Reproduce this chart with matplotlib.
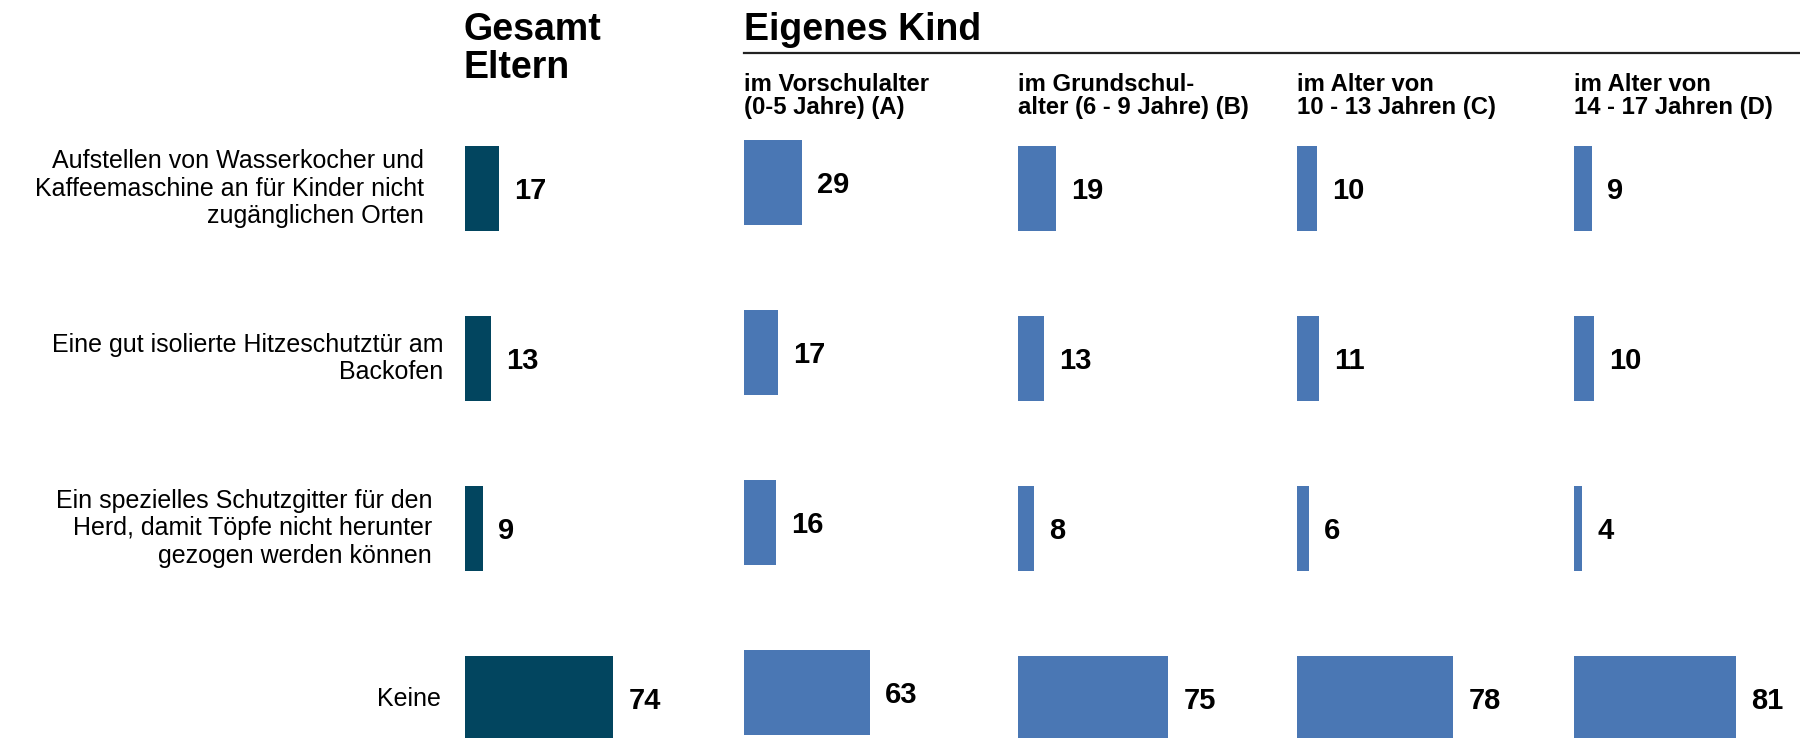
import numpy as np
import matplotlib
matplotlib.use("Agg")
import matplotlib.pyplot as plt

plt.rcParams['font.family'] = ['Liberation Sans', 'DejaVu Sans']

# data
categories = ["Aufstellen von Wasserkocher und\nKaffeemaschine an für Kinder nicht\nzugänglichen Orten",
              "Eine gut isolierte Hitzeschutztür am\nBackofen",
              "Ein spezielles Schutzgitter für den\nHerd, damit Töpfe nicht herunter\ngezogen werden können",
              "Keine"]
gesamt = [17, 13, 9, 74]
kind_a = [29, 17, 16, 63]
kind_b = [19, 13, 8, 75]
kind_c = [10, 11, 6, 78]
kind_d = [9, 10, 4, 81]
sub_titles = ["im Vorschulalter\n(0-5 Jahre) (A)",
              "im Grundschul-\nalter (6 - 9 Jahre) (B)",
              "im Alter von\n10 - 13 Jahren (C)",
              "im Alter von\n14 - 17 Jahren (D)"]

W, H = 1800, 738
fig = plt.figure(figsize=(W / 100, H / 100), dpi=100)

dark = "#02455F"
blue = "#4A77B4"

# panel geometry in pixels
lefts = [465, 744, 1018, 1297, 1574]
shifts = [0, -6, 0, 0, 0]   # column A sits a bit higher in the original
row0 = 188.5
step = 170.0
px_per_unit = 2.0
panel_w = 226

series = [gesamt, kind_a, kind_b, kind_c, kind_d]
colors = [dark, blue, blue, blue, blue]
axes = []
for left, sh, vals, col in zip(lefts, shifts, series, colors):
    top_px = row0 + sh - 0.5 * step
    bot_px = H
    ax = fig.add_axes([left / W, 1 - bot_px / H, panel_w / W, (bot_px - top_px) / H])
    y = np.arange(len(vals))
    ax.barh(y, vals, height=0.5, color=col, left=0)
    ax.set_xlim(0, panel_w / px_per_unit)
    ax.set_ylim(-0.5 + (bot_px - top_px) / step, -0.5)
    for yi, v in zip(y, vals):
        ax.annotate(str(v), xy=(v, yi), xytext=(11, -2), textcoords="offset points",
                    va="center", ha="left", fontsize=21, fontweight="bold")
    ax.axis("off")
    axes.append(ax)

# category labels (right edges in pixels)
label_right = [424, 443, 432, 441]
for i, (txt, rx) in enumerate(zip(categories, label_right)):
    axes[0].text((rx - lefts[0]) / px_per_unit, i, txt, ha="right", va="center",
                 fontsize=18, linespacing=1.2, clip_on=False)

# headers
fig.text(463 / W, 1 - 12 / H, "Gesamt\nEltern", ha="left", va="top",
         fontsize=27, fontweight="bold", linespacing=1.07)
fig.text(744 / W, 1 - 12 / H, "Eigenes Kind", ha="left", va="top",
         fontsize=27, fontweight="bold")
fig.add_artist(plt.Line2D([744 / W, 1], [1 - 53 / H, 1 - 53 / H], color="#222222", lw=1.6))
for left, st in zip(lefts[1:], sub_titles):
    fig.text(left / W, 1 - 73 / H, st, ha="left", va="top",
             fontsize=17.2, fontweight="bold", linespacing=1.0)

fig.savefig("out.png", dpi=100)
